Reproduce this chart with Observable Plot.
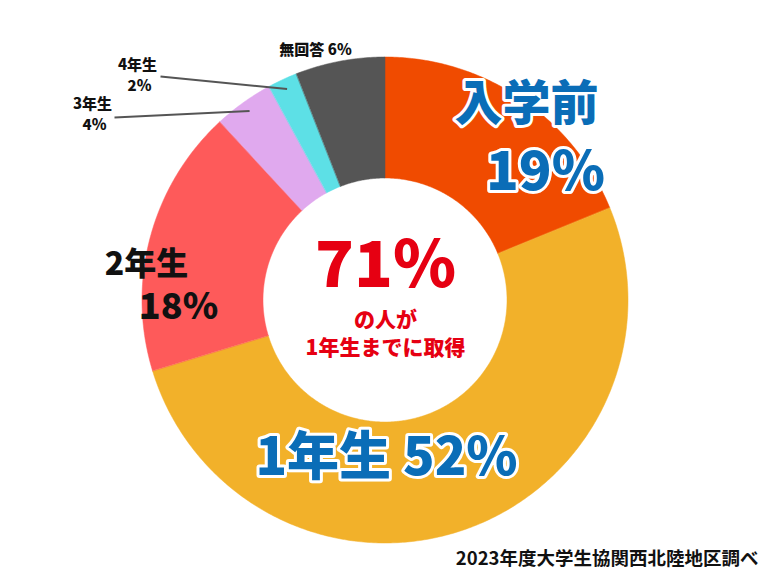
<!DOCTYPE html>
<html><head><meta charset="utf-8">
<script src="https://cdn.jsdelivr.net/npm/d3@7"></script>
<script src="https://cdn.jsdelivr.net/npm/@observablehq/plot@0.6"></script>
<style>body{margin:0;background:#fff} svg{display:block}</style>
</head><body><div id="chart"></div>
<script>
// ---- data ----
const categories = ["入学前", "1年生", "2年生", "3年生", "4年生", "無回答"];
const percents = [19, 52, 18, 4, 2, 6];
const colors = ["#F04B00", "#F2B12A", "#FE5A5A", "#E0A9EE", "#5DE0E6", "#555555"];
const centerLines = ["71%", "の人が", "1年生までに取得"];
const sourceNote = "2023年度大学生協関西北陸地区調べ";

// ---- layout ----
const W = 768, H = 576, CX = 385, CY = 300, R = 243, R0 = 122;
const FONT = "'Noto Sans CJK JP', 'Noto Sans', sans-serif";
const BLUE = "#0A6DB7", RED = "#E60012";

const total = d3.sum(percents);
let acc = 0;
const slices = categories.map((c, i) => {
  const a0 = acc / total * 2 * Math.PI; acc += percents[i];
  const a1 = acc / total * 2 * Math.PI;
  return {c, v: percents[i], a0, a1, mid: (a0 + a1) / 2, color: colors[i]};
});
const arcPts = slices.flatMap(s => {
  const n = Math.max(2, Math.ceil((s.a1 - s.a0) / 0.01));
  return d3.range(n + 1).map(k => {
    const a = s.a0 + (s.a1 - s.a0) * k / n;
    return {c: s.c, color: s.color,
      xo: R * Math.sin(a), yo: -R * Math.cos(a),
      xi: R0 * Math.sin(a), yi: -R0 * Math.cos(a)};
  });
});

// label placement (page pixels)
const big = [
  {t: categories[0], x: 526, y: 104, s: 48},
  {t: percents[0] + "%", x: 545, y: 172, s: 54},
  {t: categories[1] + " " + percents[1] + "%", x: 386, y: 458, s: 52}
];
const black = [
  {t: categories[2], x: 146, y: 264, s: 32},
  {t: percents[2] + "%", x: 178, y: 307, s: 36}
];
const small = [
  {t: categories[5] + " " + percents[5] + "%", x: 315, y: 50},
  {t: categories[4], x: 137, y: 65},
  {t: percents[4] + "%", x: 139, y: 86},
  {t: categories[3], x: 92, y: 104},
  {t: percents[3] + "%", x: 94, y: 125}
];
const leaderStarts = {"4年生": [160, 76], "3年生": [114, 117]};
const leaders = slices.filter(s => leaderStarts[s.c]).map(s => ({
  x1: leaderStarts[s.c][0] - CX, y1: leaderStarts[s.c][1] - CY,
  x2: 0.96 * R * Math.sin(s.mid), y2: -0.96 * R * Math.cos(s.mid)
}));
const rel = arr => arr.map(d => ({...d, x: d.x - CX, y: d.y - CY}));

const marks = [
  Plot.area(arcPts, {x1: "xo", y1: "yo", x2: "xi", y2: "yi", z: "c", fill: "color", stroke: "color", strokeWidth: 0.5, curve: "linear"}),
  Plot.link(leaders, {x1: "x1", y1: "y1", x2: "x2", y2: "y2", stroke: "#555", strokeWidth: 2})
];
for (const d of rel(big)) marks.push(Plot.text([d], {x: "x", y: "y", text: "t", fontSize: d.s, fontWeight: 900, fontFamily: FONT, fill: BLUE, stroke: "white", strokeWidth: 6, strokeLinejoin: "round"}));
for (const d of rel(black)) marks.push(Plot.text([d], {x: "x", y: "y", text: "t", fontSize: d.s, fontWeight: 900, fontFamily: FONT, fill: "#111"}));
marks.push(Plot.text(rel(small), {x: "x", y: "y", text: "t", fontSize: 15, fontWeight: 900, fontFamily: FONT, fill: "#111"}));
const centerLayout = [{y: 266, s: 64}, {y: 320, s: 21}, {y: 348, s: 21}];
centerLines.forEach((t, i) => marks.push(Plot.text([{t, x: 0, y: centerLayout[i].y - CY}], {x: "x", y: "y", text: "t", fontSize: centerLayout[i].s, fontWeight: 900, fontFamily: FONT, fill: RED})));
marks.push(Plot.text([{t: sourceNote, x: 758 - CX, y: 559 - CY}], {x: "x", y: "y", text: "t", textAnchor: "end", fontSize: 18.5, fontWeight: 700, fontFamily: FONT, fill: "#111"}));

const chart = Plot.plot({
  width: W, height: H, margin: 0,
  x: {domain: [-CX, W - CX], range: [0, W], axis: null},
  y: {domain: [-CY, H - CY], range: [0, H], axis: null},
  color: {type: "identity"},
  style: {background: "#fff"},
  marks
});
document.getElementById("chart").append(chart);
</script>
</body></html>
